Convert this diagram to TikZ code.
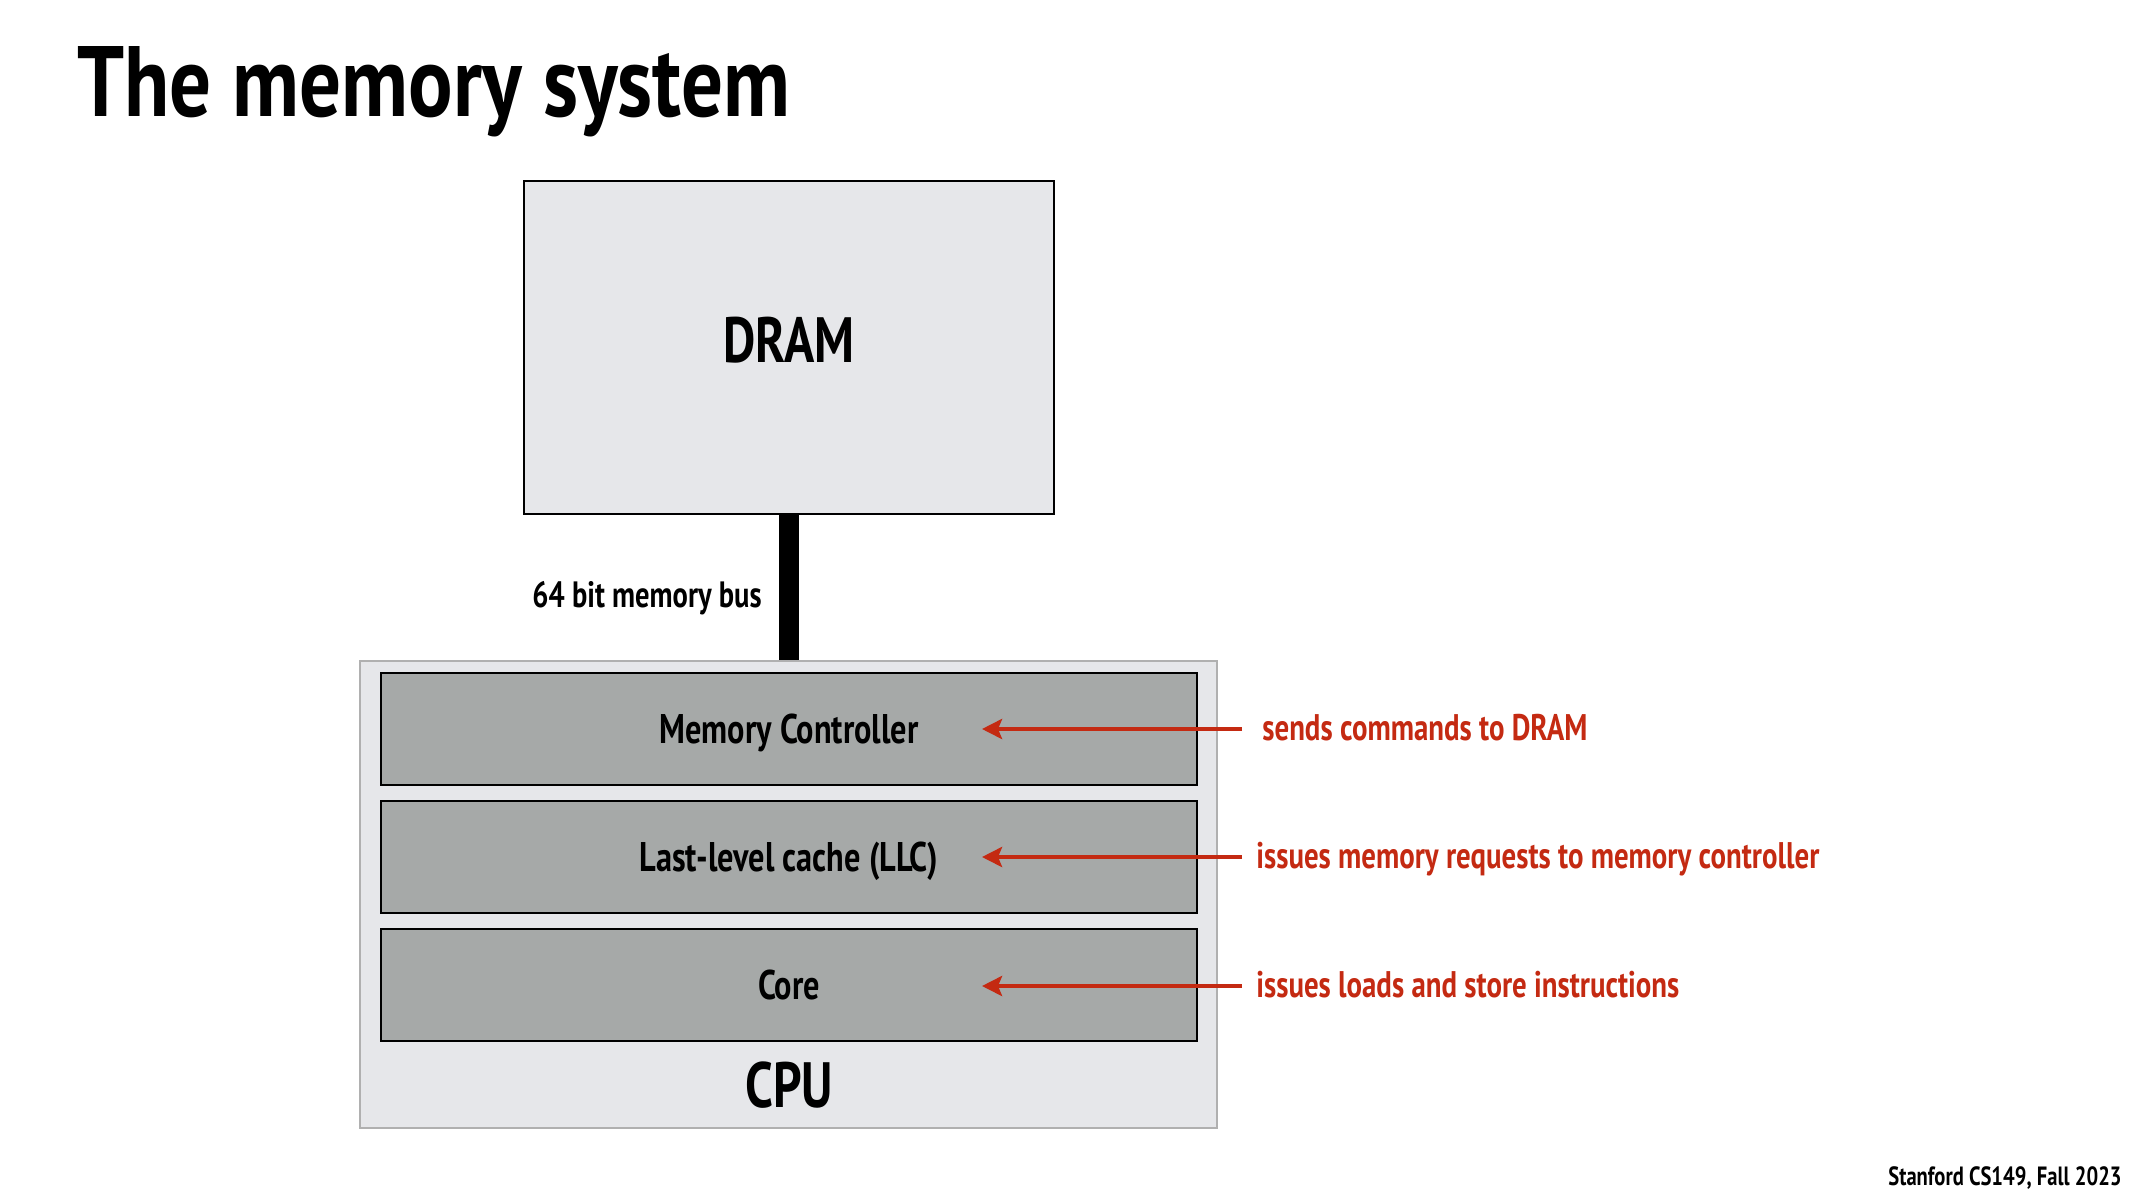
\documentclass[tikz,border=0pt]{standalone}
\usepackage{fontspec}
\setmainfont[FakeStretch=0.78]{PT Sans}
\usetikzlibrary{positioning,arrows.meta}

\definecolor{boxgray}{HTML}{E6E7EA}
\definecolor{unitgray}{HTML}{A6A9A8}
\definecolor{rimgray}{HTML}{B0B0B0}
\definecolor{notered}{HTML}{C42A12}

\tikzstyle{mem} = [rectangle, minimum width=265pt, minimum height=166.5pt, draw=black, line width=1pt, fill=boxgray, text depth=8pt, font=\bfseries\fontsize{32}{36}\selectfont]
\tikzstyle{chip} = [rectangle, minimum width=428.5pt, minimum height=233.5pt, draw=rimgray, line width=1pt, fill=boxgray]
\tikzstyle{unit} = [rectangle, minimum width=408pt, minimum height=56pt, draw=black, line width=1pt, fill=unitgray, text depth=0pt, font=\bfseries\fontsize{20.7}{24}\selectfont]
\tikzstyle{note} = [anchor=west, inner xsep=10pt, inner ysep=0pt, text depth=0pt, text=notered, font=\bfseries\fontsize{18.5}{22}\selectfont]
\tikzstyle{notearrow} = [->, draw=notered, line width=2pt]
\tikzstyle{bus} = [line width=10pt, draw=black]

\begin{document}
\begin{tikzpicture}[x=0.5pt, y=-0.5pt, node distance=64pt, >={Stealth[length=10pt,width=10pt,inset=2pt]}]
\useasboundingbox (0,0) rectangle (2133,1200);

    \node[anchor=base west, inner sep=0pt, font=\bfseries\fontsize{50}{60}\selectfont] (title) at (77,116) {\addfontfeature{FakeStretch=0.83}The memory system};

    \node[mem] (DRAM) at (789,347.5) {DRAM};
    \node[chip] (CPU) at (788.5,894.5) {};
    \node[unit] (MC) at (789,729) {Memory Controller};
    \node[unit] (LLC) [below of=MC] {Last-level cache (LLC)};
    \node[unit] (Core) [below of=LLC] {Core};
    \node[inner sep=0pt, font=\bfseries\fontsize{32}{36}\selectfont] (cpulab) at (789,1085) {CPU};

    \draw[bus] (DRAM.south) -- (MC.north |- CPU.north);
    \node[anchor=east, inner sep=0pt, text depth=0pt, font=\bfseries\fontsize{18.3}{22}\selectfont] (buslab) at (762,594) {64 bit memory bus};

    \node[note] (n1) at (1242,727) {sends commands to DRAM};
    \node[note] (n2) at (1236,855) {issues memory requests to memory controller};
    \node[note] (n3) at (1236,984) {issues loads and store instructions};
    \coordinate (a1) at (982,729);
    \coordinate (a2) at (982,857);
    \coordinate (a3) at (982,986);

    \draw[notearrow] (n1.west |- a1) -- (a1);
    \draw[notearrow] ([xshift=3pt]n2.west |- a2) -- (a2);
    \draw[notearrow] ([xshift=3pt]n3.west |- a3) -- (a3);

    \node[anchor=base east, inner sep=0pt, font=\bfseries\fontsize{13.2}{15}\selectfont] (foot) at (2122,1185) {Stanford CS149, Fall 2023};

\end{tikzpicture}
\end{document}
